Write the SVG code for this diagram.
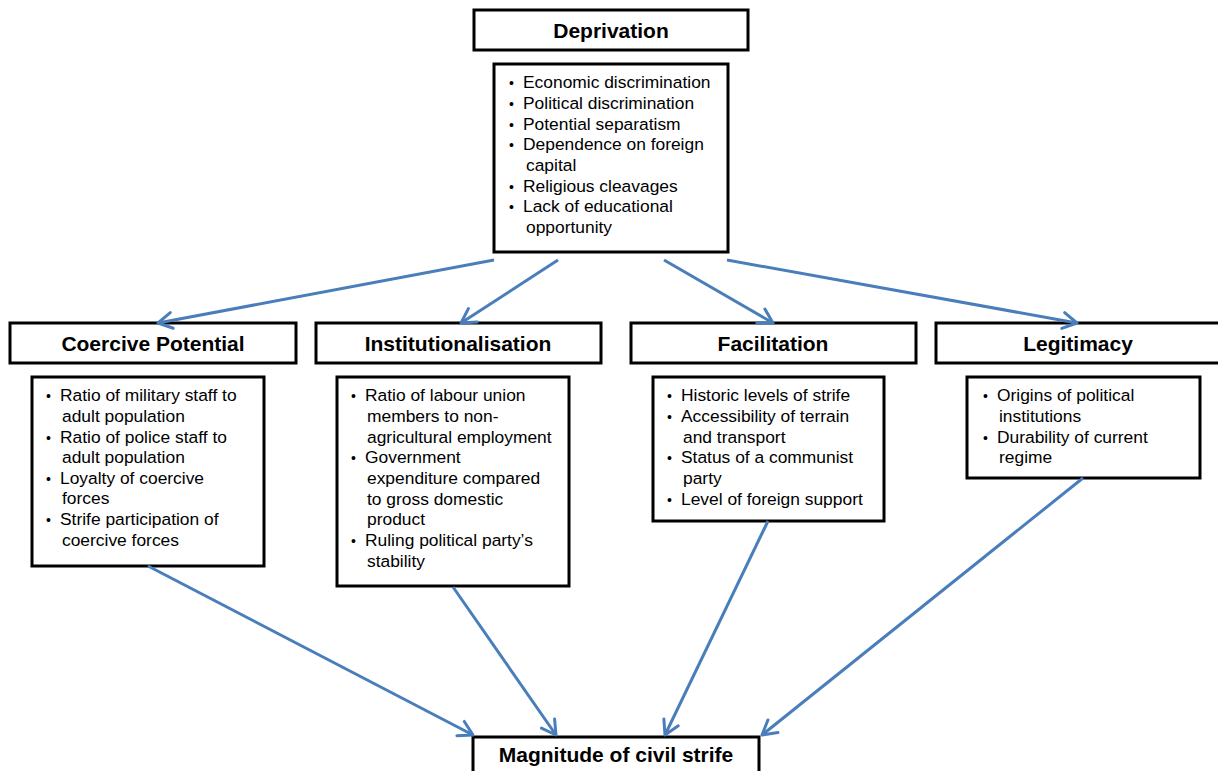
<svg xmlns="http://www.w3.org/2000/svg" width="1218" height="771" viewBox="0 0 1218 771">
<defs>
<marker id="arr" viewBox="0 0 20 20" refX="17" refY="10" markerWidth="20" markerHeight="20" markerUnits="userSpaceOnUse" orient="auto">
<path d="M3,2 L17,10 L3,18" fill="none" stroke="#4a7ebb" stroke-width="3" stroke-linecap="round" stroke-linejoin="round"/>
</marker>
</defs>
<style>
.box{fill:#fff;stroke:#000;stroke-width:3}
.title{font-family:"Liberation Sans",Arial,sans-serif;font-weight:bold;font-size:21px;text-anchor:middle;fill:#000}
.item{font-family:"Liberation Sans",Arial,sans-serif;font-size:17.4px;fill:#000}
.b{font-size:14px}
.conn line{stroke:#4a7ebb;stroke-width:3;marker-end:url(#arr)}
</style>
<rect width="1218" height="771" fill="#fff"/>

<g id="deprivation">
<rect class="box" x="474" y="10" width="274" height="40"/>
<text class="title" x="611" y="38">Deprivation</text>
</g>
<g id="deprivation-list">
<rect class="box" x="494" y="64" width="234" height="188"/>
<text class="item">
<tspan class="b" x="509" y="88">•</tspan><tspan x="523" y="88">Economic discrimination</tspan>
<tspan class="b" x="509" y="109">•</tspan><tspan x="523" y="109">Political discrimination</tspan>
<tspan class="b" x="509" y="130">•</tspan><tspan x="523" y="130">Potential separatism</tspan>
<tspan class="b" x="509" y="150">•</tspan><tspan x="523" y="150">Dependence on foreign</tspan>
<tspan x="526" y="171">capital</tspan>
<tspan class="b" x="509" y="192">•</tspan><tspan x="523" y="192">Religious cleavages</tspan>
<tspan class="b" x="509" y="212">•</tspan><tspan x="523" y="212">Lack of educational</tspan>
<tspan x="526" y="233">opportunity</tspan>
</text>
</g>

<g id="coercive">
<rect class="box" x="10" y="323" width="286" height="40"/>
<text class="title" x="153" y="351">Coercive Potential</text>
</g>
<g id="coercive-list">
<rect class="box" x="32" y="377" width="232" height="189"/>
<text class="item">
<tspan class="b" x="46" y="401">•</tspan><tspan x="60" y="401">Ratio of military staff to</tspan>
<tspan x="62" y="422">adult population</tspan>
<tspan class="b" x="46" y="443">•</tspan><tspan x="60" y="443">Ratio of police staff to</tspan>
<tspan x="62" y="463">adult population</tspan>
<tspan class="b" x="46" y="484">•</tspan><tspan x="60" y="484">Loyalty of coercive</tspan>
<tspan x="62" y="504">forces</tspan>
<tspan class="b" x="46" y="525">•</tspan><tspan x="60" y="525">Strife participation of</tspan>
<tspan x="62" y="546">coercive forces</tspan>
</text>
</g>

<g id="institutionalisation">
<rect class="box" x="316" y="323" width="285" height="40"/>
<text class="title" x="458" y="351">Institutionalisation</text>
</g>
<g id="institutionalisation-list">
<rect class="box" x="337" y="377" width="232" height="209"/>
<text class="item">
<tspan class="b" x="351" y="401">•</tspan><tspan x="365" y="401">Ratio of labour union</tspan>
<tspan x="367" y="422">members to non-</tspan>
<tspan x="367" y="443">agricultural employment</tspan>
<tspan class="b" x="351" y="463">•</tspan><tspan x="365" y="463">Government</tspan>
<tspan x="367" y="484">expenditure compared</tspan>
<tspan x="367" y="505">to gross domestic</tspan>
<tspan x="367" y="525">product</tspan>
<tspan class="b" x="351" y="546">•</tspan><tspan x="365" y="546">Ruling political party’s</tspan>
<tspan x="367" y="567">stability</tspan>
</text>
</g>

<g id="facilitation">
<rect class="box" x="631" y="323" width="285" height="40"/>
<text class="title" x="773" y="351">Facilitation</text>
</g>
<g id="facilitation-list">
<rect class="box" x="653" y="377" width="231" height="144"/>
<text class="item">
<tspan class="b" x="667" y="401">•</tspan><tspan x="681" y="401">Historic levels of strife</tspan>
<tspan class="b" x="667" y="422">•</tspan><tspan x="681" y="422">Accessibility of terrain</tspan>
<tspan x="683" y="443">and transport</tspan>
<tspan class="b" x="667" y="463">•</tspan><tspan x="681" y="463">Status of a communist</tspan>
<tspan x="683" y="484">party</tspan>
<tspan class="b" x="667" y="505">•</tspan><tspan x="681" y="505">Level of foreign support</tspan>
</text>
</g>

<g id="legitimacy">
<rect class="box" x="936" y="323" width="286" height="40"/>
<text class="title" x="1078" y="351">Legitimacy</text>
</g>
<g id="legitimacy-list">
<rect class="box" x="967" y="377" width="233" height="101"/>
<text class="item">
<tspan class="b" x="983" y="401">•</tspan><tspan x="997" y="401">Origins of political</tspan>
<tspan x="999" y="422">institutions</tspan>
<tspan class="b" x="983" y="443">•</tspan><tspan x="997" y="443">Durability of current</tspan>
<tspan x="999" y="463">regime</tspan>
</text>
</g>

<g id="magnitude">
<rect class="box" x="473" y="737" width="286" height="40"/>
<text class="title" x="616" y="762">Magnitude of civil strife</text>
</g>

<g class="conn" id="connectors">
<line x1="494" y1="260" x2="158" y2="323"/>
<line x1="558" y1="260" x2="461" y2="323"/>
<line x1="664" y1="260" x2="773" y2="323"/>
<line x1="727" y1="260" x2="1077" y2="323"/>
<line x1="148" y1="566" x2="473" y2="735"/>
<line x1="453" y1="587" x2="556" y2="735"/>
<line x1="768" y1="521" x2="665" y2="735"/>
<line x1="1083" y1="478" x2="762" y2="735"/>
</g>
</svg>
